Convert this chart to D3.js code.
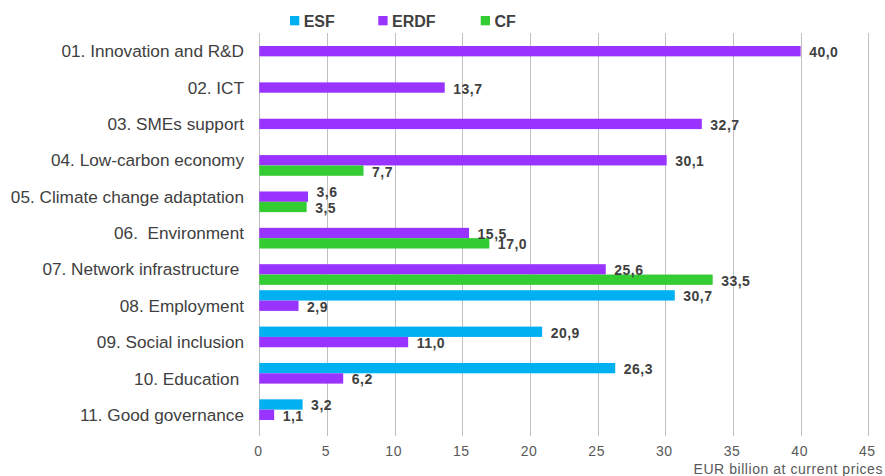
<!DOCTYPE html>
<html>
<head>
<meta charset="utf-8">
<script src="https://cdn.jsdelivr.net/npm/d3@7"></script>
<style>
  html, body { margin: 0; padding: 0; background: #fff; }
  svg { display: block; font-family: "Liberation Sans", Arial, sans-serif; }
  text { white-space: pre; }
</style>
</head>
<body>
<svg id="chart" width="885" height="476"></svg>
<script>
const categories = [
  "01. Innovation and R&D",
  "02. ICT",
  "03. SMEs support",
  "04. Low-carbon economy",
  "05. Climate change adaptation",
  "06.  Environment",
  "07. Network infrastructure ",
  "08. Employment",
  "09. Social inclusion",
  "10. Education ",
  "11. Good governance"
];
const seriesNames = ["ESF", "ERDF", "CF"];
const esfValues  = [null, null, null, null, null, null, null, 30.7, 20.9, 26.3, 3.2];
const erdfValues = [40.0, 13.7, 32.7, 30.1, 3.6, 15.5, 25.6, 2.9, 11.0, 6.2, 1.1];
const cfValues   = [null, null, null, 7.7, 3.5, 17.0, 33.5, null, null, null, null];
const xTicks = [0, 5, 10, 15, 20, 25, 30, 35, 40, 45];
const axisTitle = "EUR billion at current prices";

const colors = { ESF: "#00B0F0", ERDF: "#9933FF", CF: "#33CC33" };
const valuesBySeries = { ESF: esfValues, ERDF: erdfValues, CF: cfValues };

const svg = d3.select("#chart");
const x = d3.scaleLinear().domain([0, 45]).range([259.3, 868.3]);
const y = d3.scaleBand().domain(categories).range([33, 433]);
const slot = d3.scaleBand().domain(seriesNames).range([-15.5, 15.5]);

// gridlines
svg.append("g").selectAll("line").data(xTicks).join("line")
  .attr("x1", d => Math.round(x(d)) + 0.5).attr("x2", d => Math.round(x(d)) + 0.5)
  .attr("y1", 33).attr("y2", 436)
  .attr("stroke", "#C0C0C0").attr("stroke-width", 1);

// tick labels
svg.append("g").selectAll("text").data(xTicks).join("text")
  .attr("x", d => x(d) - 1).attr("y", 456)
  .attr("text-anchor", "middle")
  .attr("font-size", 14).attr("letter-spacing", 0.5).attr("fill", "#595959")
  .text(d => d);

svg.append("text")
  .attr("x", 883).attr("y", 474.3)
  .attr("text-anchor", "end")
  .attr("font-size", 14).attr("letter-spacing", 0.55).attr("fill", "#595959")
  .text(axisTitle);

// category labels
svg.append("g").selectAll("text").data(categories).join("text")
  .attr("x", 244).attr("y", d => y(d) + y.bandwidth() / 2 + 6.1)
  .attr("text-anchor", "end")
  .attr("font-size", 17.2).attr("fill", "#404040")
  .text(d => d);

// bars
const barData = [];
seriesNames.forEach(s => {
  valuesBySeries[s].forEach((v, i) => {
    if (v !== null) barData.push({ series: s, cat: categories[i], value: v });
  });
});

const bars = svg.append("g");
bars.selectAll("rect").data(barData).join("rect")
  .attr("x", x(0))
  .attr("y", d => y(d.cat) + y.bandwidth() / 2 + slot(d.series))
  .attr("width", d => x(d.value) - x(0))
  .attr("height", slot.bandwidth())
  .attr("fill", d => colors[d.series]);

// value labels
const labelNudge = { "05. Climate change adaptation|ERDF": -6 };
svg.append("g").selectAll("text").data(barData).join("text")
  .attr("x", d => x(d.value) + 8.5)
  .attr("y", d => y(d.cat) + y.bandwidth() / 2 + slot(d.series) + slot.bandwidth() / 2 + 1
        + (labelNudge[d.cat + "|" + d.series] || 0) + 5)
  .attr("font-size", 14).attr("font-weight", "bold")
  .attr("letter-spacing", 0.5)
  .attr("fill", "#404040")
  .text(d => d.value.toFixed(1).replace(".", ","));

// legend
const legendX = { ESF: 290, ERDF: 378.3, CF: 480.7 };
const lg = svg.append("g");
seriesNames.forEach(s => {
  lg.append("rect").attr("x", legendX[s]).attr("y", 16).attr("width", 9.3).attr("height", 9.3)
    .attr("fill", colors[s]);
  lg.append("text").attr("x", legendX[s] + 13.7).attr("y", 26.7)
    .attr("font-size", 16).attr("font-weight", "bold").attr("fill", "#404040")
    .text(s);
});
</script>
</body>
</html>
